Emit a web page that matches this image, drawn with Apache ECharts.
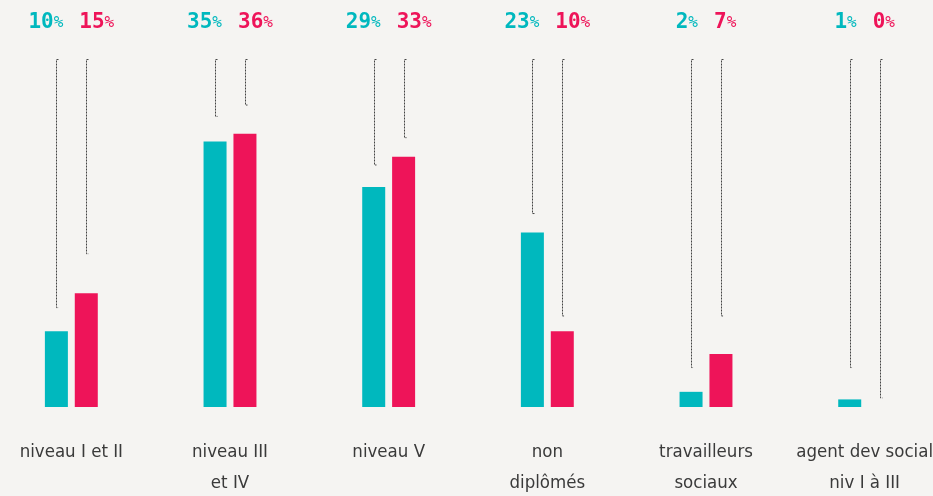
<!DOCTYPE html>
<html>
<head>
<meta charset="utf-8">
<script src="https://cdn.jsdelivr.net/npm/echarts@6/dist/echarts.min.js"></script>
<style>
  html, body { margin: 0; padding: 0; background: #f5f4f2; }
  #chart { width: 933px; height: 496px; }
</style>
</head>
<body>
<div id="chart"></div>
<script>
var categories = ['niveau I et II', 'niveau III\net IV', 'niveau V', 'non\ndiplômés', 'travailleurs\nsociaux', 'agent dev social\nniv I à III'];
var cyanValues = [10, 35, 29, 23, 2, 1];
var pinkValues = [15, 36, 33, 10, 7, 0];
// where each dotted leader stops (in % units)
var cyanLeaderEnd = [13.1, 38.3, 31.9, 25.5, 5.2, 5.2];
var pinkLeaderEnd = [20.2, 39.8, 35.5, 12.0, 12.0, 1.2];
var leaderTop = 45.8;

var CYAN = '#00b8be';
var PINK = '#ee1459';

var dom = document.getElementById('chart');
var myChart = echarts.init(dom);

var leaderData = [];
for (var i = 0; i < categories.length; i++) {
    leaderData.push([i, cyanLeaderEnd[i], -1]);
    leaderData.push([i, pinkLeaderEnd[i], 1]);
}

function renderLeader(params, api) {
    var cat = api.value(0);
    var side = api.value(2);
    var top = api.coord([cat, leaderTop]);
    var end = api.coord([cat, api.value(1)]);
    var x = Math.round(top[0] + side * 15) + 0.5;
    return {
        type: 'polyline',
        shape: { points: [[x + 2, top[1]], [x, top[1]], [x, end[1]], [x + 2, end[1]]] },
        style: { stroke: '#444', lineWidth: 1, lineDash: [2, 1], fill: null }
    };
}

var option = {
    backgroundColor: '#f5f4f2',
    animation: false,
    grid: { left: -8, right: -11, top: 58, bottom: 89, outerBoundsMode: 'none', containLabel: false },
    xAxis: [{
        type: 'category',
        data: categories,
        axisLine: { show: false },
        axisTick: { show: false },
        axisLabel: {
            interval: 0,
            margin: 30,
            color: '#3a3a3a',
            fontFamily: 'Liberation Sans Narrow, DejaVu Sans Condensed, sans-serif',
            fontSize: 18.5,
            lineHeight: 31
        }
    }, {
        type: 'category',
        position: 'top',
        data: categories,
        axisLine: { show: false },
        axisTick: { show: false },
        axisLabel: {
            interval: 0,
            margin: 25,
            formatter: function (v, idx) {
                return '{c|' + cyanValues[idx] + '}{cp|%}{g|}{r|' + pinkValues[idx] + '}{rp|%}';
            },
            rich: {
                c: { color: CYAN, fontFamily: 'DejaVu Sans Mono', fontWeight: 'bold', fontSize: 21 },
                cp: { color: CYAN, fontFamily: 'DejaVu Sans Mono', fontSize: 16 },
                r: { color: PINK, fontFamily: 'DejaVu Sans Mono', fontWeight: 'bold', fontSize: 21 },
                rp: { color: PINK, fontFamily: 'DejaVu Sans Mono', fontSize: 16 },
                g: { width: 16 }
            }
        }
    }],
    yAxis: {
        type: 'value',
        min: 0,
        max: 46,
        show: false
    },
    series: [{
        type: 'bar',
        data: cyanValues,
        barWidth: 23,
        barGap: '30%',
        itemStyle: { color: CYAN }
    }, {
        type: 'bar',
        data: pinkValues,
        barWidth: 23,
        itemStyle: { color: PINK }
    }, {
        type: 'custom',
        renderItem: renderLeader,
        data: leaderData,
        z: 5
    }]
};

myChart.setOption(option);
</script>
</body>
</html>
